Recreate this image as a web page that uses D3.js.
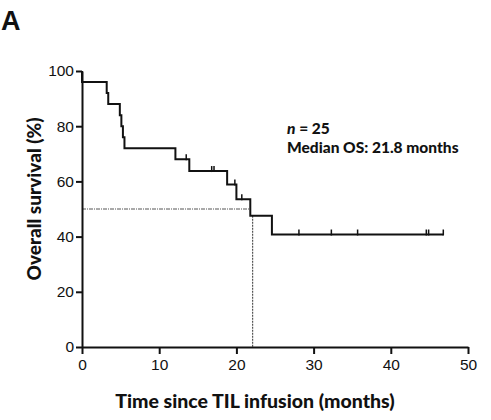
<!DOCTYPE html>
<html>
<head>
<meta charset="utf-8">
<script src="https://cdn.jsdelivr.net/npm/d3@7"></script>
<style>
  body { margin: 0; background: #fff; }
  svg { display: block; }
</style>
</head>
<body>
<svg id="chart" width="491" height="420"></svg>
<script>
// Kaplan-Meier steps: time (months) and survival (%) after each drop
const stepTimes    = [0,  0,  3.2, 3.4, 4.9, 5.1, 5.3, 5.5, 12.1, 13.9, 18.8, 20.0, 21.8, 24.6];
const stepSurvival = [100, 96, 92, 88, 84, 80, 76, 72, 68, 63.75, 58.85, 53.5, 47.55, 40.76];
const lastFollowUp = 46.8;
// censored patients (tick marks)
const censorTimes = [13.5, 16.8, 17.1, 19.8, 20.7, 28.1, 32.3, 35.7, 44.6, 44.9, 46.8];
const medianOS = 22.1;
const medianLevel = 50;
const xTicks = [0, 10, 20, 30, 40, 50];
const yTicks = [0, 20, 40, 60, 80, 100];

const svg = d3.select("#chart");
const margin = {top: 71, right: 23, bottom: 73, left: 82};
const width = 491 - margin.left - margin.right;
const height = 420 - margin.top - margin.bottom;

const x = d3.scaleLinear().domain([0, 50]).range([0, width]);
const y = d3.scaleLinear().domain([0, 100]).range([height, 0]);

const g = svg.append("g")
  .attr("transform", "translate(" + margin.left + "," + margin.top + ")");

// survival at a given time (step function)
function survivalAt(t) {
  let s = stepSurvival[0];
  for (let i = 0; i < stepTimes.length; i++) {
    if (stepTimes[i] <= t) s = stepSurvival[i];
  }
  return s;
}

// median dashed guide lines
g.append("line")
  .attr("x1", x(0)).attr("x2", x(21.8))
  .attr("y1", y(medianLevel)).attr("y2", y(medianLevel))
  .attr("stroke", "#555").attr("stroke-width", 1)
  .attr("stroke-dasharray", "4,1,1,1");
g.append("line")
  .attr("x1", x(medianOS)).attr("x2", x(medianOS))
  .attr("y1", y(47.55)).attr("y2", y(0))
  .attr("stroke", "#555").attr("stroke-width", 1.2)
  .attr("stroke-dasharray", "2,1");

// step curve
const pts = stepTimes.map((t, i) => [t, stepSurvival[i]]);
pts.push([lastFollowUp, stepSurvival[stepSurvival.length - 1]]);
const line = d3.line()
  .x(d => x(d[0]))
  .y(d => y(d[1]))
  .curve(d3.curveStepAfter);
g.append("path")
  .attr("d", line(pts))
  .attr("fill", "none")
  .attr("stroke", "#111")
  .attr("stroke-width", 2);

// censor ticks
g.selectAll(".censor")
  .data(censorTimes)
  .enter().append("line")
  .attr("class", "censor")
  .attr("x1", d => x(d)).attr("x2", d => x(d))
  .attr("y1", d => y(survivalAt(d)) - 5)
  .attr("y2", d => y(survivalAt(d)) + 1)
  .attr("stroke", "#111")
  .attr("stroke-width", 1.5);

// axes
const xAxis = g.append("g")
  .attr("transform", "translate(0," + height + ")")
  .call(d3.axisBottom(x).tickValues(xTicks).tickSize(7).tickPadding(5).tickSizeOuter(0));
const yAxis = g.append("g")
  .call(d3.axisLeft(y).tickValues(yTicks).tickSize(6).tickPadding(2).tickSizeOuter(0));

[xAxis, yAxis].forEach(a => {
  a.select(".domain").attr("stroke", "#111").attr("stroke-width", 2);
  a.selectAll(".tick line").attr("stroke", "#111").attr("stroke-width", 2);
  a.selectAll(".tick text")
    .style("font-family", "'Liberation Sans', Arial, sans-serif")
    .style("font-size", "15.5px")
    .attr("fill", "#111");
});

// axis titles
svg.append("text")
  .attr("x", 255).attr("y", 408)
  .attr("text-anchor", "middle")
  .style("font-family", "Lato, 'Open Sans', sans-serif")
  .style("font-weight", "900")
  .style("font-size", "19.5px")
  .attr("fill", "#111")
  .text("Time since TIL infusion (months)");

svg.append("text")
  .attr("transform", "translate(41,199) rotate(-90)")
  .attr("text-anchor", "middle")
  .style("font-family", "Lato, 'Open Sans', sans-serif")
  .style("font-weight", "900")
  .style("font-size", "19px")
  .attr("fill", "#111")
  .text("Overall survival (%)");

// annotation
const note = svg.append("g")
  .style("font-family", "Lato, 'Open Sans', sans-serif")
  .style("font-weight", "900")
  .style("font-size", "15.5px")
  .attr("fill", "#111");
const n1 = note.append("text").attr("x", 287).attr("y", 134);
n1.append("tspan").style("font-style", "italic").text("n");
n1.append("tspan").text(" = 25");
note.append("text").attr("x", 287).attr("y", 153).text("Median OS: 21.8 months");

// panel letter
svg.append("text")
  .attr("x", 1).attr("y", 30)
  .style("font-family", "'Liberation Sans', Arial, sans-serif")
  .style("font-weight", "bold")
  .style("font-size", "27px")
  .attr("fill", "#111")
  .text("A");
</script>
</body>
</html>
